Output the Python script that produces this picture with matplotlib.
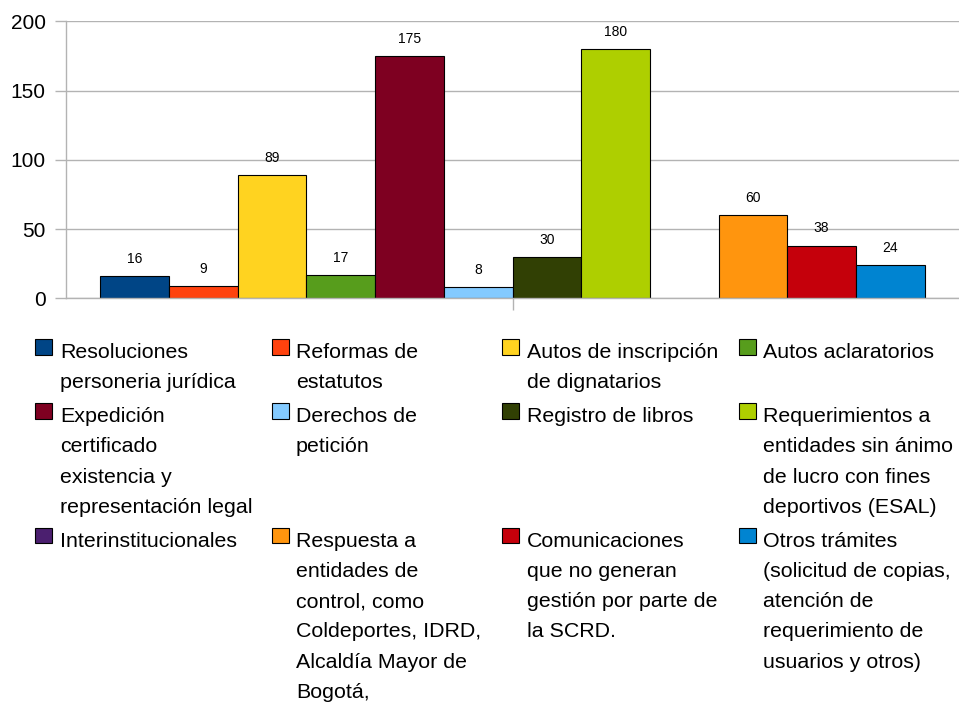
import numpy as np
import matplotlib
matplotlib.use("Agg")
import matplotlib.pyplot as plt
from matplotlib.patches import Rectangle

plt.rcParams['font.family'] = ['Liberation Sans', 'DejaVu Sans']

# ---- data ----
labels = [
    "Resoluciones\npersoneria jurídica",
    "Reformas de\nestatutos",
    "Autos de inscripción\nde dignatarios",
    "Autos aclaratorios",
    "Expedición\ncertificado\nexistencia y\nrepresentación legal",
    "Derechos de\npetición",
    "Registro de libros",
    "Requerimientos a\nentidades sin ánimo\nde lucro con fines\ndeportivos (ESAL)",
    "Interinstitucionales",
    "Respuesta a\nentidades de\ncontrol, como\nColdeportes, IDRD,\nAlcaldía Mayor de\nBogotá,",
    "Comunicaciones\nque no generan\ngestión por parte de\nla SCRD.",
    "Otros trámites\n(solicitud de copias,\natención de\nrequerimiento de\nusuarios y otros)",
]
values = [16, 9, 89, 17, 175, 8, 30, 180, np.nan, 60, 38, 24]
colors = ["#004586", "#ff420e", "#ffd320", "#579d1c", "#7e0021", "#83caff",
          "#314004", "#aecf00", "#4b1f6f", "#ff950e", "#c5000b", "#0084d1"]
yticks = [0, 50, 100, 150, 200]

W, H = 959, 702
fig = plt.figure(figsize=(W / 100, H / 100), dpi=100)
ax = fig.add_axes([66 / W, 1 - 298.3 / H, (W - 66) / W, (298.3 - 21.3) / H])

n = len(values)
x = np.arange(n) - (n - 1) / 2
ax.bar(x, values, width=1.0, color=colors, edgecolor="black", linewidth=0.8, zorder=3)
for xi, v in zip(x, values):
    if not np.isnan(v):
        ax.annotate(f"{v:g}", (xi, v), xytext=(0, 9.5), textcoords="offset points",
                    ha="center", va="baseline", fontsize=10, color="black", zorder=4)

ax.set_xlim(-n / 2 - 0.5, n / 2 + 0.5)
ax.set_ylim(0, 200)
ax.set_yticks(yticks)
ax.set_yticklabels([str(t) for t in yticks], fontsize=15)
ax.set_xticks([0])
ax.set_xticklabels([""])
ax.yaxis.grid(True, color="#b3b3b3", linewidth=1.0, zorder=0)
ax.set_axisbelow(True)
ax.tick_params(axis="y", length=8, width=1.0, color="#b3b3b3", pad=6.5, direction="out")
ax.tick_params(axis="x", length=8.5, width=1.0, color="#b3b3b3", direction="out")
for s in ["top", "right"]:
    ax.spines[s].set_visible(False)
for s in ["left", "bottom"]:
    ax.spines[s].set_color("#b3b3b3")
    ax.spines[s].set_linewidth(1.0)
    ax.spines[s].set_zorder(5)

# ---- legend (4 columns, row-major) ----
col_sw = [35, 272, 502, 739]
col_tx = [60, 296, 527, 763]
line_h = 30.2
row_gap = 34
ncol = 4
base = 358
T = fig.dpi_scale_trans
for r in range(0, n, ncol):
    row = list(range(r, min(r + ncol, n)))
    maxlines = 1
    for c, i in enumerate(row):
        lines = labels[i].split("\n")
        maxlines = max(maxlines, len(lines))
        sw_top = base - 19
        fig.add_artist(Rectangle((col_sw[c] / 100, (H - sw_top - 15.5) / 100), 16.5 / 100, 15.5 / 100,
                                 transform=T, facecolor=colors[i], edgecolor="black", linewidth=0.8))
        for k, ln in enumerate(lines):
            yb = base + k * line_h
            fig.text(col_tx[c] / 100, (H - yb) / 100, ln, transform=T, fontsize=15.4,
                     ha="left", va="baseline", color="black")
    base = base + (maxlines - 1) * line_h + row_gap

fig.savefig("out.png", dpi=100)
